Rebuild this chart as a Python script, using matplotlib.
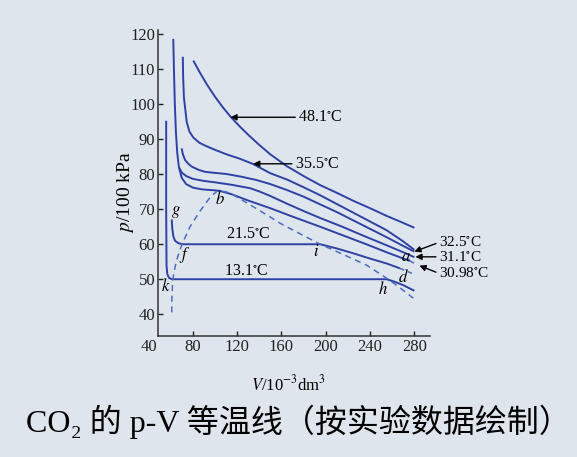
import matplotlib
matplotlib.use('Agg')
import matplotlib.pyplot as plt

# isotherms: V in 10^-3 dm^3, p in 100 kPa
v_481 = [80.5, 86, 92.5, 100, 107, 114, 122, 131, 140, 150, 165, 180, 195, 210, 225, 240, 255, 270, 280]
p_481 = [112.5, 109.3, 105.8, 102.2, 99.2, 96.5, 93.8, 91, 88.4, 85.7, 82.3, 79.5, 76.9, 74.7, 72.4, 70.3, 68.1, 66.1, 64.7]

v_355 = [71, 71.3, 72, 74.5, 77, 80.5, 86, 92.5, 100, 110.5, 122, 134, 150, 165, 180, 195, 210, 225, 240, 255, 270, 280]
p_355 = [113.6, 108, 102, 95, 92.2, 90.5, 89, 88, 87, 85.7, 84.5, 83, 80.3, 78.5, 76.3, 74, 71.5, 69, 66.5, 64, 60.8, 58.4]

v_325 = [70, 71, 73, 76, 79, 85, 91, 100, 110, 124, 137, 150, 165, 180, 195, 210, 225, 240, 255, 270, 280]
p_325 = [87.4, 85.8, 84.1, 83, 82.2, 81.3, 80.7, 80.4, 80.1, 79.3, 78.4, 77.2, 75.5, 73.6, 71.4, 69.2, 66.8, 64.4, 62, 59.5, 57.9]

v_311 = [67.5, 70, 74, 80, 90, 100, 115, 132, 140, 150, 165, 180, 195, 215, 235, 255, 270, 280]
p_311 = [82, 80.5, 79.5, 78.7, 78.1, 77.7, 77, 76, 75.1, 73.8, 71.6, 69.5, 67.5, 65, 62.3, 59.7, 57.7, 56.3]

v_3098 = [62.4, 63, 63.8, 64.8, 66, 67.5, 70, 74, 80, 88, 96, 104, 115, 130, 150, 170, 195, 215, 235, 255, 276]
p_3098 = [118.7, 110, 100, 92, 86, 82, 79, 77.2, 76.2, 75.7, 75.5, 75.3, 74.3, 72.5, 70.3, 67.9, 65, 62.6, 60.2, 57.7, 55.2]
v_3098_ext = [276, 281]
p_3098_ext = [55.2, 54.4]

v_215 = [61, 61.5, 62.5, 64, 67, 71, 195, 210, 225, 240, 255, 267]
p_215 = [67.1, 64.5, 62.2, 61, 60.3, 60, 60, 58.8, 57.4, 55.9, 54.5, 53.1]
v_215_ext = [267, 280]
p_215_ext = [53.1, 51.4]

v_131 = [56, 56, 56.3, 57, 58.5, 61, 255, 262, 270, 280]
p_131 = [95.3, 70, 54, 51.5, 50.4, 50, 50, 49.3, 48.3, 46.7]

# saturation dome (dashed)
v_dome = [61, 61.2, 62, 64, 66.5, 70, 77.5, 86.6, 95.6, 102, 110, 116.6, 130, 146.7, 160, 176.7, 195, 215, 237, 255, 266, 279]
p_dome = [40.5, 45, 50, 53.5, 56.5, 59.8, 65, 69.5, 73.4, 75.2, 75, 74.1, 71.6, 68.4, 65.8, 63, 60, 57.2, 54, 50.3, 47.8, 44.6]

y_ticks = [40, 50, 60, 70, 80, 90, 100, 110, 120]
x_ticks = [80, 120, 160, 200, 240, 280]

bg = '#dee5ec'
blue = '#2d42a4'
dash_blue = '#4d6cc2'

plt.rcParams['font.family'] = ['Liberation Serif', 'DejaVu Serif']
plt.rcParams['mathtext.fontset'] = 'stix'

fig = plt.figure(figsize=(5.77, 4.57), dpi=100, facecolor=bg)
ax = fig.add_axes([0.274, 0.265, 0.471, 0.669])
ax.set_facecolor(bg)

lw = 1.4
for v, p in [(v_481, p_481), (v_355, p_355), (v_325, p_325), (v_311, p_311),
             (v_3098, p_3098), (v_215, p_215), (v_131, p_131)]:
    ax.plot(v, p, color=blue, lw=lw, solid_capstyle='butt', solid_joinstyle='round')
ax.plot(v_3098_ext, p_3098_ext, color=dash_blue, lw=1.1, dashes=(3, 2.5))
ax.plot(v_215_ext, p_215_ext, color=dash_blue, lw=1.1, dashes=(3, 2.5))
ax.plot(v_dome, p_dome, color=dash_blue, lw=1.1, dashes=(4, 3))

ax.set_xlim(48.7, 294)
ax.set_ylim(33.8, 121.2)
ax.set_xticks(x_ticks)
ax.set_yticks(y_ticks)
ax.tick_params(direction='in', length=3.5, width=1, pad=2, labelsize=12, colors='#222222')
for s in ['top', 'right']:
    ax.spines[s].set_visible(False)
for s in ['left', 'bottom']:
    ax.spines[s].set_linewidth(1.1)
    ax.spines[s].set_color('#333333')

# the "40" of the V axis sits left of the p axis in the original
ax.annotate('40', xy=(40, 0), xycoords=('data', 'axes fraction'), xytext=(0, -2),
            textcoords='offset points', ha='center', va='top', fontsize=12,
            color='#222222', annotation_clip=False)

ax.set_ylabel('$p$/100 kPa', fontsize=14)
ax.yaxis.set_label_coords(-0.08, 0.47)
ax.set_xlabel('$V$/10$^{-3}$dm$^{3}$', fontsize=12)
ax.xaxis.set_label_coords(0.48, -0.125)

tfs = 11
arrow = dict(arrowstyle='-|>', color='black', lw=1, mutation_scale=9, shrinkA=0, shrinkB=0, relpos=(0, 0.5))
ax.annotate('48.1$^{\\circ}$C', xy=(114, 96.3), xytext=(175, 96.3), ha='left', va='center',
            fontsize=tfs + 0.5, arrowprops=arrow)
ax.annotate('35.5$^{\\circ}$C', xy=(134.6, 83), xytext=(172, 83), ha='left', va='center',
            fontsize=tfs + 0.5, arrowprops=arrow)
ax.annotate('32.5$^{\\circ}$C', xy=(280, 57.9), xytext=(302, 60.5), ha='left', va='center',
            fontsize=tfs, arrowprops=arrow, annotation_clip=False)
ax.annotate('31.1$^{\\circ}$C', xy=(281, 56.4), xytext=(302, 56.4), ha='left', va='center',
            fontsize=tfs, arrowprops=arrow, annotation_clip=False)
ax.annotate('30.98$^{\\circ}$C', xy=(284.6, 53.9), xytext=(302, 51.7), ha='left', va='center',
            fontsize=tfs, arrowprops=arrow, annotation_clip=False)
ax.text(130, 62.8, '21.5$^{\\circ}$C', ha='center', va='center', fontsize=tfs + 0.5)
ax.text(128.6, 52.4, '13.1$^{\\circ}$C', ha='center', va='center', fontsize=tfs + 0.5)

for lab, v, p in [('g', 65, 69.3), ('k', 55.8, 47.9), ('f', 73, 57), ('b', 104.6, 72.9),
                  ('i', 191.7, 57.9), ('a', 272, 56.3), ('d', 269.8, 50.5), ('h', 251.7, 47.1)]:
    ax.text(v, p, '$' + lab + '$', ha='center', va='center', fontsize=12)

fig.text(0.518, 0.076, 'CO₂ 的 p-V 等温线（按实验数据绘制）', ha='center', va='center',
         fontsize=23, family=['Liberation Serif', 'DejaVu Serif', 'Noto Sans CJK SC'])

fig.savefig('out.png', dpi=100, facecolor=bg)
